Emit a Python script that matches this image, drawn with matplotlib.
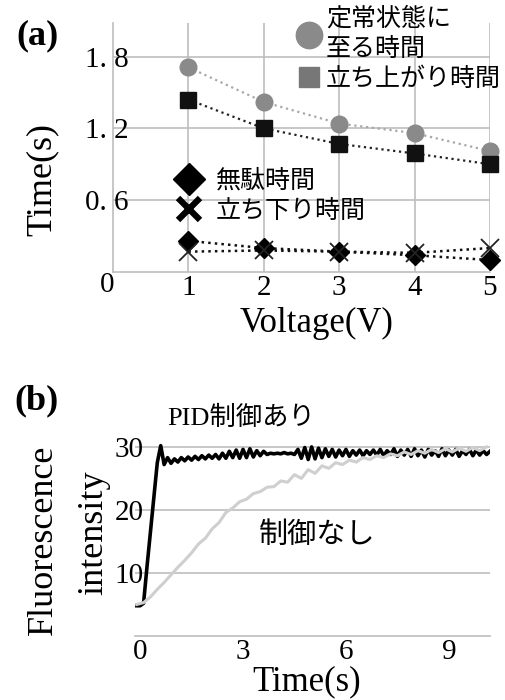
import numpy as np
import matplotlib
matplotlib.use("Agg")
import matplotlib.pyplot as plt
from matplotlib.lines import Line2D

SERIF = ["Liberation Serif", "Noto Sans CJK JP"]
JP = ["Noto Sans CJK JP", "DejaVu Sans"]
plt.rcParams["font.family"] = SERIF

W, H = 505, 700

# ---- (a) 電圧ごとの応答時間 ----
voltage = [1, 2, 3, 4, 5]
t_steady = [1.71, 1.42, 1.24, 1.16, 1.01]     # 定常状態に至る時間
t_rise = [1.44, 1.20, 1.07, 0.99, 0.90]       # 立ち上がり時間
t_dead = [0.26, 0.20, 0.17, 0.14, 0.10]       # 無駄時間
t_fall = [0.17, 0.18, 0.17, 0.16, 0.20]       # 立ち下り時間
a_yticks = [0.6, 1.2, 1.8]
a_yticklabels = ["0. 6", "1. 2", "1. 8"]

# ---- (b) 蛍光強度の時間変化 ----
time_pid = [-0.1, 0.0, 0.1, 0.2, 0.3, 0.4, 0.5, 0.6, 0.7, 0.8, 0.9,
            1.0, 1.1, 1.2, 1.3, 1.4, 1.5, 1.6, 1.7, 1.8, 1.9,
            2.0, 2.1, 2.2, 2.3, 2.4, 2.5, 2.6, 2.7, 2.8, 2.9,
            3.0, 3.1, 3.2, 3.3, 3.4, 3.5, 3.6, 3.7, 3.8, 3.9,
            4.0, 4.1, 4.2, 4.3, 4.4, 4.5, 4.6, 4.7, 4.8, 4.9,
            5.0, 5.1, 5.2, 5.3, 5.4, 5.5, 5.6, 5.7, 5.8, 5.9,
            6.0, 6.1, 6.2, 6.3, 6.4, 6.5, 6.6, 6.7, 6.8, 6.9,
            7.0, 7.1, 7.2, 7.3, 7.4, 7.5, 7.6, 7.7, 7.8, 7.9,
            8.0, 8.1, 8.2, 8.3, 8.4, 8.5, 8.6, 8.7, 8.8, 8.9,
            9.0, 9.1, 9.2, 9.3, 9.4, 9.5, 9.6, 9.7, 9.8, 9.9,
            10.0, 10.1, 10.2]
fl_pid = [4.8, 4.8, 5.2, 11.0, 16.5, 22.0, 27.5, 30.2, 27.2, 28.3, 27.4,
          28.1, 27.6, 28.3, 27.8, 28.4, 27.9, 28.5, 28.0, 28.6, 28.1,
          28.7, 28.2, 28.8, 28.1, 29.0, 28.2, 29.3, 28.3, 29.5, 28.2,
          29.6, 28.3, 29.7, 28.4, 29.4, 28.6, 29.3, 28.8, 29.0, 28.9,
          29.0, 28.9, 29.1, 28.9, 29.0, 28.8, 29.6, 28.2, 29.9, 28.0,
          30.0, 28.1, 29.8, 28.3, 29.7, 28.5, 29.6, 28.4, 29.5, 28.6,
          29.6, 28.5, 29.4, 28.7, 29.5, 28.6, 29.4, 28.8, 29.5, 28.7,
          29.6, 28.6, 29.4, 28.8, 29.7, 28.5, 29.5, 28.7, 29.6, 28.5,
          29.7, 28.6, 29.5, 28.4, 29.6, 28.7, 29.4, 28.5, 29.7, 28.6,
          29.5, 28.7, 29.6, 28.5, 29.4, 28.8, 29.6, 28.6, 29.5, 28.7,
          29.4, 28.8, 29.3]
time_free = [-0.1, 0.1, 0.3, 0.5, 0.7, 0.9, 1.1, 1.3, 1.5, 1.7, 1.9,
             2.1, 2.3, 2.5, 2.7, 2.9, 3.1, 3.3, 3.5, 3.7, 3.9,
             4.1, 4.3, 4.5, 4.7, 4.9, 5.1, 5.3, 5.5, 5.7, 5.9,
             6.1, 6.3, 6.5, 6.7, 6.9, 7.1, 7.3, 7.5, 7.7, 7.9,
             8.1, 8.3, 8.5, 8.7, 8.9, 9.1, 9.3, 9.5, 9.7, 9.9, 10.1]
fl_free = [5.0, 5.3, 6.2, 7.4, 8.5, 9.7, 10.9, 12.0, 13.2, 14.6, 15.5,
           17.0, 18.0, 19.6, 20.3, 21.3, 21.7, 22.6, 22.9, 23.6, 23.7,
           24.6, 24.4, 25.6, 25.0, 26.4, 25.8, 27.0, 26.6, 27.5, 27.2,
           27.9, 27.6, 28.3, 28.0, 28.6, 28.3, 28.9, 28.6, 29.2, 28.8,
           29.4, 29.0, 29.6, 29.1, 29.7, 29.2, 29.8, 29.3, 29.9, 29.4, 30.0]
b_xticks = [0, 3, 6, 9]
b_yticks = [10, 20, 30]

GRID = "#bdbdbd"


def fx(px):
    return px / W


def fy(py):
    return 1 - py / H


fig = plt.figure(figsize=(W / 100, H / 100), dpi=100)

# ===================== (a) =====================
ax1 = fig.add_axes([fx(113), fy(272), fx(490) - fx(113), fy(23) - fy(272)])
ax1.set_xlim(0, 5)
ax1.set_ylim(0, 2.08)
ax1.plot(voltage, t_steady, ":", color="#a8a8a8", lw=1.6, zorder=2)
ax1.plot(voltage, t_steady, "o", color="#8a8a8a", ms=12, mec="#8a8a8a",
         zorder=3, clip_on=False)
ax1.plot(voltage, t_rise, ":", color="#222", lw=1.6, zorder=2)
ax1.plot(voltage, t_rise, "s", color="#111", ms=12, zorder=3, clip_on=False)
ax1.plot(voltage, t_dead, ":", color="#111", lw=1.8, zorder=2)
ax1.plot(voltage, t_dead, "D", color="#000", ms=10, zorder=3, clip_on=False)
ax1.plot(voltage, t_fall, ":", color="#111", lw=1.8, zorder=2)
ax1.plot(voltage, t_fall, "x", color="#222", ms=13, mew=1.3, zorder=3,
         clip_on=False)

ax1.set_xticks(voltage)
ax1.set_xticklabels([str(v) for v in voltage])
ax1.set_yticks(a_yticks)
ax1.set_yticklabels(a_yticklabels)
ax1.grid(True, color=GRID, lw=1.2)
ax1.set_axisbelow(True)
for s in ["top", "right"]:
    ax1.spines[s].set_visible(False)
for s in ["left", "bottom"]:
    ax1.spines[s].set_color(GRID)
    ax1.spines[s].set_linewidth(1.2)
ax1.tick_params(axis="both", length=0, labelsize=21)
ax1.tick_params(axis="y", pad=-11)
ax1.tick_params(axis="x", pad=2)
fig.text(fx(107), fy(285), "0", fontsize=21, ha="center", va="center")

h1 = [Line2D([], [], ls="", marker="o", ms=19, color="#8a8a8a"),
      Line2D([], [], ls="", marker="s", ms=14, color="#777777")]
leg1 = ax1.legend(h1, ["定常状態に\n至る時間", "立ち上がり時間"],
                  loc="upper left", bbox_to_anchor=(fx(296), fy(6)),
                  bbox_transform=fig.transFigure, frameon=False,
                  handlelength=1.0, handletextpad=0.2, labelspacing=0.15,
                  borderpad=0, borderaxespad=0,
                  prop={"family": JP, "size": 18})
ax1.add_artist(leg1)
h2 = [Line2D([], [], ls="", marker="D", ms=16, color="#000"),
      Line2D([], [], ls="", marker="x", ms=16, mew=4.5, color="#000")]
ax1.legend(h2, ["無駄時間", "立ち下り時間"], loc="upper left",
           bbox_to_anchor=(fx(176), fy(168)), bbox_transform=fig.transFigure,
           frameon=False, handlelength=1.0, handletextpad=0.6,
           labelspacing=0.15, borderpad=0, borderaxespad=0,
           prop={"family": JP, "size": 18})

fig.text(fx(37), fy(36), "(a)", fontsize=26, fontweight="bold",
         ha="center", va="center")
fig.text(fx(42), fy(180), "Time(s)", fontsize=26, rotation=90,
         ha="center", va="center")
fig.text(fx(317), fy(323), "Voltage(V)", fontsize=25,
         ha="center", va="center")

# ===================== (b) =====================
ax2 = fig.add_axes([fx(135), fy(636), fx(490) - fx(135), fy(428) - fy(636)])
ax2.set_xlim(-0.15, 10.2)
ax2.set_ylim(0, 33)
ax2.plot(time_pid, fl_pid, color="#000", lw=2.6, zorder=3)
ax2.plot(time_free, fl_free, color="#cfcfcf", lw=2.2, zorder=4)
ax2.set_xticks(b_xticks)
ax2.set_yticks(b_yticks)
ax2.yaxis.grid(True, color=GRID, lw=1.2)
ax2.set_axisbelow(True)
for s in ["top", "right", "left"]:
    ax2.spines[s].set_visible(False)
ax2.spines["bottom"].set_color(GRID)
ax2.spines["bottom"].set_linewidth(1.2)
ax2.tick_params(axis="both", length=0, labelsize=21)
ax2.tick_params(axis="y", pad=-6)
ax2.tick_params(axis="x", pad=2)

fig.text(fx(37), fy(401), "(b)", fontsize=26, fontweight="bold",
         ha="center", va="center")
fig.text(fx(43), fy(540), "Fluorescence", fontsize=26, rotation=90,
         ha="center", va="center")
fig.text(fx(94), fy(533), "intensity", fontsize=26, rotation=90,
         ha="center", va="center")
fig.text(fx(307), fy(682), "Time(s)", fontsize=25, ha="center", va="center")
fig.text(fx(241), fy(418), "PID制御あり", fontsize=19, family=SERIF,
         ha="center", va="center")
fig.text(fx(317), fy(535), "制御なし", fontsize=21, family=JP,
         ha="center", va="center")

fig.savefig("out.png", dpi=100)
